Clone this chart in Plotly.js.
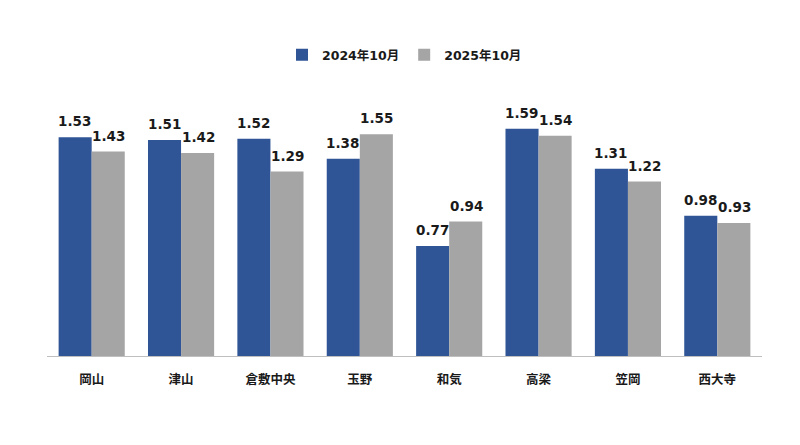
<!DOCTYPE html>
<html><head><meta charset="utf-8">
<script src="https://cdn.plot.ly/plotly-3.0.1.min.js"></script>
<style>html,body{margin:0;padding:0;background:#fff}#c{width:800px;height:445px}</style>
</head><body><div id="c"></div>
<script>
const categories = ["岡山","津山","倉敷中央","玉野","和気","高梁","笠岡","西大寺"];
const series2024 = [1.53,1.51,1.52,1.38,0.77,1.59,1.31,0.98];
const series2025 = [1.43,1.42,1.29,1.55,0.94,1.54,1.22,0.93];
const seriesNames = ["2024年10月","2025年10月"];
const FONT = "DejaVu Sans, 'Noto Sans CJK JP', sans-serif";
const fmt = v => v.toFixed(2);
const traces = [
  {type:"bar", name:seriesNames[0], x:categories, y:series2024, marker:{color:"#2F5597"}},
  {type:"bar", name:seriesNames[1], x:categories, y:series2025, marker:{color:"#A5A5A5"}}
];
const annotations = [];
[series2024, series2025].forEach((s, si) => {
  s.forEach((v, i) => {
    annotations.push({x:categories[i], y:v, xref:"x", yref:"y", text:fmt(v), showarrow:false,
      xanchor:"center", yanchor:"bottom", xshift: si === 0 ? -17 : 17, yshift:6,
      font:{family:FONT, size:13.5, color:"#1a1a1a", weight:"bold"}});
  });
});
const layout = {
  width:800, height:445,
  margin:{l:47, r:38, t:70, b:89, autoexpand:false},
  paper_bgcolor:"#fff", plot_bgcolor:"#fff",
  barmode:"group", bargap:0.26, bargroupgap:0,
  showlegend:true,
  legend:{orientation:"h", x:0.5, xanchor:"center", y:0.876, yanchor:"middle", yref:"container",
    font:{family:FONT, size:12.5, color:"#1a1a1a", weight:"bold"}, traceorder:"normal", itemwidth:30},
  xaxis:{showline:true, linecolor:"#BFBFBF", linewidth:1, ticks:"", showgrid:false, ticklabelstandoff:12,
    tickfont:{family:"'Noto Sans CJK JP', sans-serif", size:12.5, color:"#1a1a1a", weight:"bold"}},
  yaxis:{range:[0,2], visible:false, showgrid:false, zeroline:false},
  annotations: annotations,
  font:{family:FONT}
};
Plotly.newPlot("c", traces, layout, {displayModeBar:false, staticPlot:true});
</script></body></html>
